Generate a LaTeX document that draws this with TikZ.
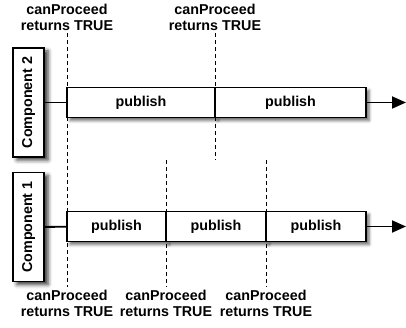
\documentclass[tikz,border=0pt]{standalone}
\usepackage{fontspec}
\setmainfont{Liberation Sans}
\usetikzlibrary{shadows,shadows.blur,arrows.meta}
\begin{document}
\begin{tikzpicture}[x=1pt,y=-1pt,
  font=\bfseries\fontsize{14.3}{16}\selectfont,
  compbox/.style={draw=black,line width=1.6pt,fill=white,minimum width=109pt,minimum height=31pt,inner sep=0pt,rotate=90,
     blur shadow={shadow xshift=4pt,shadow yshift=-3pt,shadow blur radius=4pt,shadow opacity=80}},
  seg/.style={draw=black,line width=1.3pt,fill=white,minimum height=30pt,inner sep=0pt,
     blur shadow={shadow xshift=3pt,shadow yshift=-3pt,shadow blur radius=3pt,shadow opacity=60}},
  lbl/.style={align=center,inner sep=0pt},
  dashline/.style={line width=0.7pt,dash pattern=on 4pt off 3pt},
  conn/.style={line width=1.8pt}
]
\useasboundingbox (0,0) rectangle (406,328);
% dashed lines
\coordinate (t1) at (67,33); \coordinate (b1) at (67,287);
\coordinate (t2) at (215,33); \coordinate (b2) at (215,160);
\coordinate (t3) at (166,160); \coordinate (b3) at (166,287);
\coordinate (t4) at (266,160); \coordinate (b4) at (266,287);
\draw[dashline] (t1) -- (b1);
\draw[dashline] (t2) -- (b2);
\draw[dashline] (t3) -- (b3);
\draw[dashline] (t4) -- (b4);
% component boxes
\node[compbox] (c2) at (28.5,102.5) {Component 2};
\node[compbox] (c1) at (28.5,227) {Component 1};
% bars
\node[seg,minimum width=148pt] (p21) at (141,102.5) {publish};
\node[seg,minimum width=151pt] (p22) at (290.5,102.5) {publish};
\node[seg,minimum width=99pt] (p11) at (116.5,226.5) {publish};
\node[seg,minimum width=100pt] (p12) at (216,226.5) {publish};
\node[seg,minimum width=100pt] (p13) at (316,226.5) {publish};
% connectors
\coordinate (e2) at (406,102.5);
\coordinate (e1) at (406,226.5);
\draw[conn] (c2) -- (p21);
\draw[conn] (c1) -- (p11);
\draw[conn,-{Triangle[length=14pt,width=12pt]}] (p22.east) -- (e2);
\draw[conn,-{Triangle[length=14pt,width=12pt]}] (p13.east) -- (e1);
% labels
\node[lbl,anchor=south] (l1) at (67,31) {canProceed\\returns TRUE};
\node[lbl,anchor=south] (l2) at (215,31) {canProceed\\returns TRUE};
\node[lbl,anchor=north] (l3) at (67,290) {canProceed\\returns TRUE};
\node[lbl,anchor=north] (l4) at (166,290) {canProceed\\returns TRUE};
\node[lbl,anchor=north] (l5) at (266,290) {canProceed\\returns TRUE};
\end{tikzpicture}
\end{document}
